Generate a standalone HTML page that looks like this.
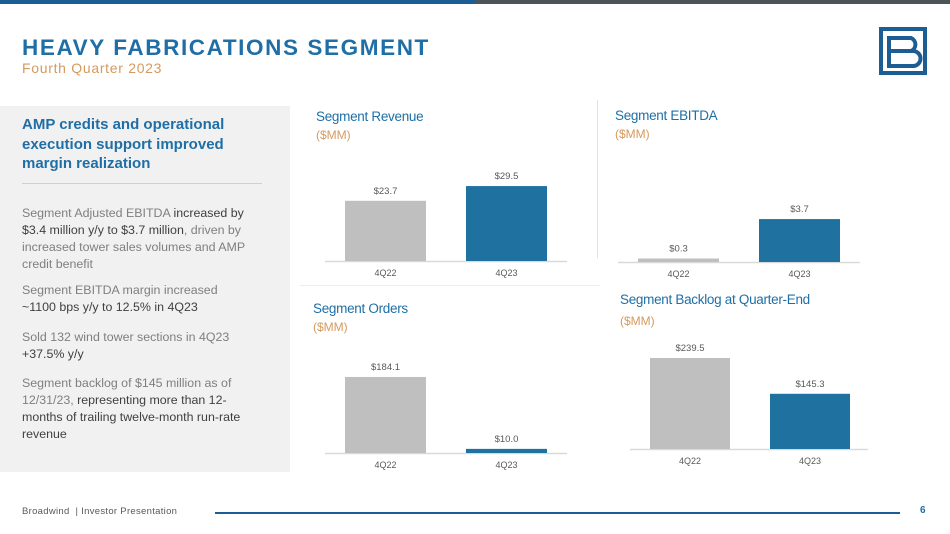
<!DOCTYPE html>
<html><head><meta charset="utf-8"><style>
body{margin:0;width:950px;height:534px;position:relative;background:#fff;font-family:"Liberation Sans",sans-serif;overflow:hidden}
.a{position:absolute}
.lp{font-size:12.4px;line-height:17px;color:#7f7f7f;width:236px;left:22px}
.lp b{font-weight:normal;color:#404040}
.ct{font-size:13.5px;color:#1f6fa6;letter-spacing:-0.3px}
.mm{font-size:12px;color:#d59a5e}
</style></head><body>
<div class="a" style="left:0;top:0;width:475px;height:4px;background:#1c5d94"></div>
<div class="a" style="left:475px;top:0;width:475px;height:4px;background:#4d5457"></div>
<div class="a" style="left:22px;top:35px;font-size:22.5px;font-weight:bold;color:#1f6fa6;letter-spacing:1.6px">HEAVY FABRICATIONS SEGMENT</div>
<div class="a" style="left:22px;top:60px;font-size:14px;color:#d59a5e;letter-spacing:0.7px">Fourth Quarter 2023</div>
<svg class="a" style="left:878px;top:26px" width="50" height="50" viewBox="0 0 50 50">
<path d="M3 3h44v44H3z" fill="none" stroke="#1c5d94" stroke-width="4"/>
<path d="M11 12h22a7 7 0 0 1 0 13h-22zM11 25h24a7.5 7.5 0 0 1 0 15h-24z" fill="none" stroke="#1c5d94" stroke-width="4"/>
</svg>
<div class="a" style="left:0;top:106px;width:290px;height:366px;background:#f1f1f1"></div>
<div class="a" style="left:22px;top:115px;width:250px;font-size:15px;font-weight:bold;line-height:19.5px;color:#1f6fa6">AMP credits and operational execution support improved margin realization</div>
<div class="a" style="left:22px;top:183px;width:240px;height:1px;background:#d0d0d0"></div>
<div class="a lp" style="top:205px">Segment Adjusted EBITDA <b>increased by $3.4 million y/y to $3.7 million</b>, driven by increased tower sales volumes and AMP credit benefit</div>
<div class="a lp" style="top:282px">Segment EBITDA margin increased<br><b>~1100 bps y/y to 12.5% in 4Q23</b></div>
<div class="a lp" style="top:329px">Sold 132 wind tower sections in 4Q23 <b>+37.5% y/y</b></div>
<div class="a lp" style="top:375px">Segment backlog of $145 million as of 12/31/23, <b>representing more than 12-months of trailing twelve-month run-rate revenue</b></div>
<div class="a" style="left:597px;top:100px;width:1px;height:158px;background:#e2e2e2"></div>
<div class="a" style="left:300px;top:285px;width:300px;height:1px;background:#ececec"></div>
<div class="a ct" style="left:316px;top:109px">Segment Revenue</div>
<div class="a mm" style="left:316px;top:128px">($MM)</div>
<div class="a ct" style="left:615px;top:108px">Segment EBITDA</div>
<div class="a mm" style="left:615px;top:127px">($MM)</div>
<div class="a ct" style="left:313px;top:301px">Segment Orders</div>
<div class="a mm" style="left:313px;top:320px">($MM)</div>
<div class="a ct" style="left:620px;top:292px">Segment Backlog at Quarter-End</div>
<div class="a mm" style="left:620px;top:314px">($MM)</div>
<svg class="a" id="charts" style="left:0;top:0" width="950" height="534"></svg>
<div class="a" style="left:22px;top:506px;font-size:9.5px;color:#595959;letter-spacing:0.3px">Broadwind&nbsp; | Investor Presentation</div>
<div class="a" style="left:215px;top:512px;width:685px;height:1.5px;background:#1c5d94"></div>
<div class="a" style="left:920px;top:505px;font-size:10px;font-weight:bold;color:#1f6fa6">6</div>
<script>
const categories = ["4Q22", "4Q23"];
const revenueValues = [23.7, 29.5];
const revenueLabels = ["$23.7", "$29.5"];
const ebitdaValues = [0.3, 3.7];
const ebitdaLabels = ["$0.3", "$3.7"];
const ordersValues = [184.1, 10.0];
const ordersLabels = ["$184.1", "$10.0"];
const backlogValues = [239.5, 145.3];
const backlogLabels = ["$239.5", "$145.3"];
const NS = "http://www.w3.org/2000/svg";
const svg = document.getElementById("charts");
const colors = ["#bfbfbf", "#1f72a0"];
function mk(tag, attrs){const e=document.createElementNS(NS,tag);for(const k in attrs)e.setAttribute(k,attrs[k]);svg.appendChild(e);return e;}
function chart(name, vals, labels, cfg){
  const y = v => cfg.base - v * cfg.ppu;
  const ax = mk("line",{x1:cfg.ax0,x2:cfg.ax1,y1:cfg.base+0.5,y2:cfg.base+0.5,stroke:"#d9d9d9","stroke-width":1.5});
  
  
  vals.forEach((v,i)=>{
    const x = cfg.x0 + i * cfg.step;
    const r = mk("rect",{x:x,y:y(v),width:cfg.w,height:cfg.base-y(v),fill:colors[i]});
    
    
    const t = mk("text",{x:x+cfg.w/2,y:y(v)-7,"text-anchor":"middle","font-size":9.5,fill:"#595959","font-family":"Liberation Sans, sans-serif"});
    t.textContent = labels[i];
    
    
    const c = mk("text",{x:x+cfg.w/2,y:cfg.base+15,"text-anchor":"middle","font-size":9,fill:"#595959","font-family":"Liberation Sans, sans-serif"});
    c.textContent = categories[i];
    
    
  });
}
chart("revenue", revenueValues, revenueLabels, {x0:345,step:121,w:81,base:261,ppu:2.54,ax0:325,ax1:567});
chart("ebitda", ebitdaValues, ebitdaLabels, {x0:638,step:121,w:81,base:262,ppu:11.6,ax0:618,ax1:860});
chart("orders", ordersValues, ordersLabels, {x0:345,step:121,w:81,base:453,ppu:0.413,ax0:325,ax1:567});
chart("backlog", backlogValues, backlogLabels, {x0:650,step:120,w:80,base:449,ppu:0.38,ax0:630,ax1:868});
</script>
</body></html>
